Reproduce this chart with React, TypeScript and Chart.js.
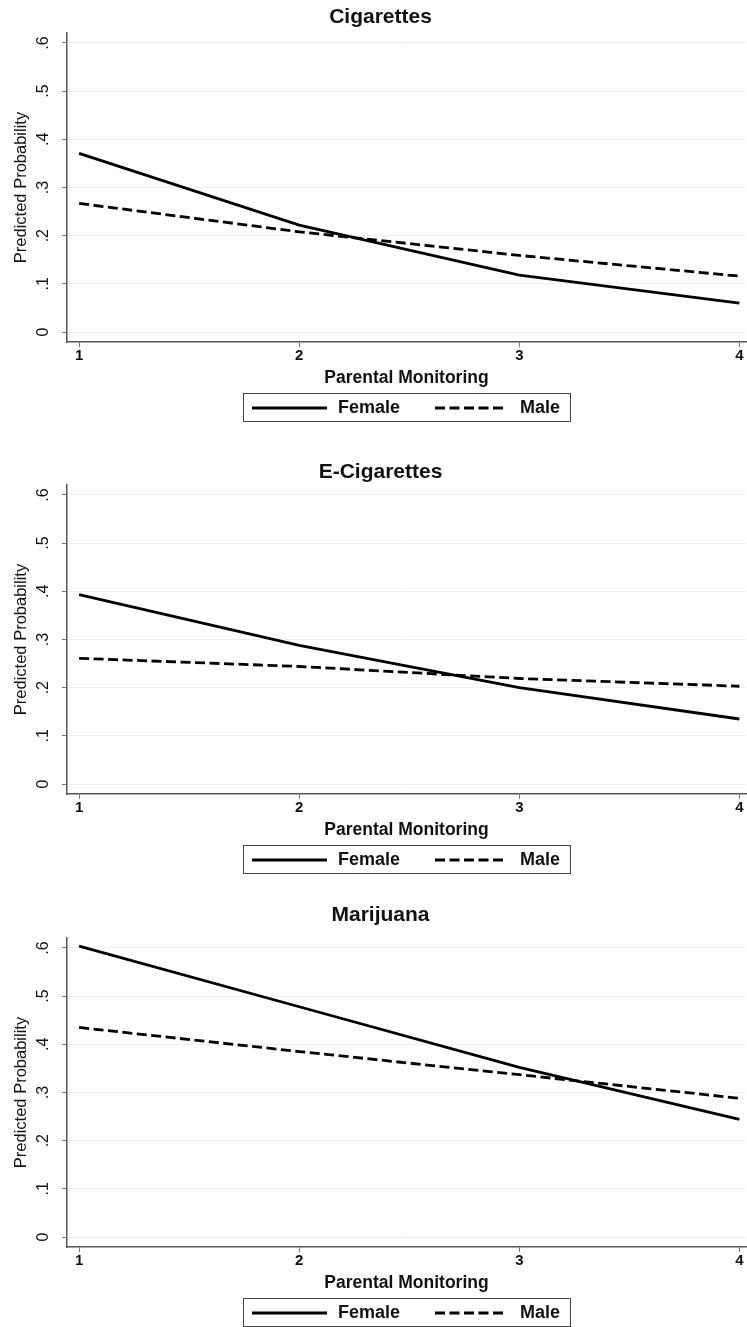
import React, { useEffect, useRef } from "react";
import { Chart, registerables } from "chart.js";

Chart.register(...registerables);

// ---- data ----
const xValues = [1, 2, 3, 4];
const xTickLabels = ["1", "2", "3", "4"];
const yTickValues = [0, 0.1, 0.2, 0.3, 0.4, 0.5, 0.6];
const yTickLabels = ["0", ".1", ".2", ".3", ".4", ".5", ".6"];
const panelTitles = ["Cigarettes", "E-Cigarettes", "Marijuana"];
const seriesNames = ["Female", "Male"];
const xAxisTitle = "Parental Monitoring";
const yAxisTitle = "Predicted Probability";

const cigFemale = [0.371, 0.222, 0.118, 0.06];
const cigMale = [0.267, 0.208, 0.159, 0.116];
const ecigFemale = [0.393, 0.288, 0.2, 0.135];
const ecigMale = [0.261, 0.244, 0.219, 0.203];
const marFemale = [0.604, 0.478, 0.352, 0.244];
const marMale = [0.435, 0.385, 0.337, 0.288];

// ---- layout / style ----
const FONT = '"Liberation Sans", Arial, Helvetica, sans-serif';
const INK = "#111111";
const PANEL_TOPS = [0, 452, 905];
const PANEL_H = 422;
const TITLE_CENTERS = [17, 20, 10];
const DASH = [10, 4.5];

const customDraw = {
  id: "customDraw",
  afterDraw(chart: any) {
    const ctx = chart.ctx;
    const area = chart.chartArea;
    const ys = chart.scales.y;
    ctx.save();
    // rotated y tick labels
    ctx.fillStyle = INK;
    ctx.font = `16px ${FONT}`;
    ctx.textAlign = "center";
    ctx.textBaseline = "middle";
    yTickValues.forEach((v, i) => {
      const py = ys.getPixelForValue(v);
      ctx.save();
      ctx.translate(area.left - 23, py);
      ctx.rotate(-Math.PI / 2);
      ctx.fillText(yTickLabels[i], 0, 0);
      ctx.restore();
    });
    // legend box
    const cx = (area.left + area.right) / 2;
    const bw = 327;
    const bh = 28;
    const bx = Math.round(cx - bw / 2);
    const by = Math.round(area.bottom + 51);
    ctx.strokeStyle = "#444";
    ctx.lineWidth = 1;
    ctx.strokeRect(bx + 0.5, by + 0.5, bw, bh);
    const midY = by + bh / 2 + 1;
    const slots = [
      [9, 84, 95],
      [192, 264, 277],
    ];
    chart.data.datasets.forEach((ds: any, i: number) => {
      const [x0, x1, tx] = slots[i];
      ctx.beginPath();
      ctx.setLineDash(ds.borderDash || []);
      ctx.lineWidth = 2.8;
      ctx.strokeStyle = ds.borderColor;
      ctx.moveTo(bx + x0, midY);
      ctx.lineTo(bx + x1, midY);
      ctx.stroke();
      ctx.setLineDash([]);
      ctx.fillStyle = INK;
      ctx.textAlign = "left";
      ctx.textBaseline = "middle";
      ctx.font = `bold 18px ${FONT}`;
      ctx.fillText(ds.label, bx + tx, midY);
    });
    ctx.restore();
  },
};

function Panel(props: { title: string; female: number[]; male: number[]; titleCenter: number }) {
  const ref = useRef<HTMLCanvasElement | null>(null);
  useEffect(() => {
    if (!ref.current) return;
    const pt = props.titleCenter - 12.6;
    const pb = 33 - 25.2 - pt;
    const chart = new Chart(ref.current, {
      type: "line",
      data: {
        datasets: [
          {
            label: seriesNames[0],
            data: props.female.map((y, i) => ({ x: xValues[i], y })),
            borderColor: "#000",
            borderWidth: 2.8,
            pointRadius: 0,
            fill: false,
            tension: 0,
          },
          {
            label: seriesNames[1],
            data: props.male.map((y, i) => ({ x: xValues[i], y })),
            borderColor: "#000",
            borderWidth: 2.8,
            borderDash: DASH,
            pointRadius: 0,
            fill: false,
            tension: 0,
          },
        ],
      },
      options: {
        responsive: false,
        animation: false,
        layout: { padding: { left: 15, right: 1, top: 0, bottom: 32 } },
        plugins: {
          legend: { display: false },
          tooltip: { enabled: false },
          title: {
            display: true,
            text: props.title,
            color: INK,
            font: { family: FONT, size: 21, weight: "bold", lineHeight: 1.2 },
            padding: { top: pt, bottom: pb },
          },
        },
        scales: {
          x: {
            type: "linear",
            min: 0.945,
            max: 4.03,
            afterBuildTicks: (s: any) => {
              s.ticks = xValues.map((v) => ({ value: v }));
            },
            afterFit: (s: any) => {
              s.height = 48;
              s.paddingLeft = 0;
              s.paddingRight = 0;
            },
            ticks: {
              callback: (_v: any, i: number) => xTickLabels[i],
              color: INK,
              font: { family: FONT, size: 15, weight: "bold", lineHeight: 1.2 },
              padding: 0,
              maxRotation: 0,
              autoSkip: false,
            },
            grid: { drawOnChartArea: false, drawTicks: true, tickLength: 5, tickColor: "#777" },
            border: { display: true, color: "#555", width: 1.5 },
            title: {
              display: true,
              text: xAxisTitle,
              color: INK,
              font: { family: FONT, size: 17.5, weight: "bold", lineHeight: 1.2 },
              padding: { top: 0, bottom: 1.5 },
            },
          },
          y: {
            type: "linear",
            min: -0.0207,
            max: 0.6207,
            afterBuildTicks: (s: any) => {
              s.ticks = yTickValues.map((v) => ({ value: v }));
            },
            afterFit: (s: any) => {
              s.width = 52;
              s.paddingTop = 0;
              s.paddingBottom = 0;
            },
            ticks: { display: false },
            grid: {
              color: "rgba(0,0,0,0.06)",
              tickColor: "#777",
              tickLength: 5,
              drawTicks: true,
            },
            border: { display: true, color: "#555", width: 1.5 },
            title: {
              display: true,
              text: yAxisTitle,
              color: INK,
              font: { family: FONT, size: 16.5, lineHeight: 0.75 },
              padding: 0,
            },
          },
        },
      },
      plugins: [customDraw],
    } as any);
    return () => chart.destroy();
  }, []);
  return <canvas ref={ref} width={747} height={PANEL_H} style={{ display: "block" }} />;
}

export default function App() {
  const panels = [
    { female: cigFemale, male: cigMale },
    { female: ecigFemale, male: ecigMale },
    { female: marFemale, male: marMale },
  ];
  return (
    <div style={{ position: "absolute", left: 0, top: 0, width: 747, height: 1327, background: "#fff" }}>
      {panels.map((p, i) => (
        <div key={i} style={{ position: "absolute", left: 0, top: PANEL_TOPS[i], width: 747, height: PANEL_H }}>
          <Panel title={panelTitles[i]} female={p.female} male={p.male} titleCenter={TITLE_CENTERS[i]} />
        </div>
      ))}
    </div>
  );
}
